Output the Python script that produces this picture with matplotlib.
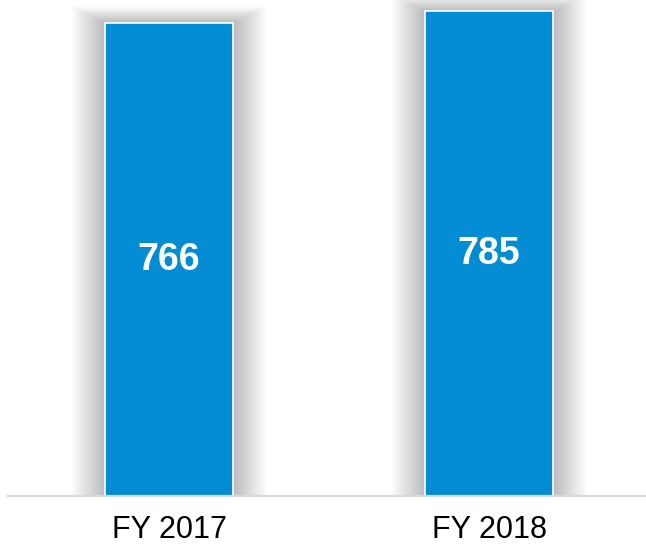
import matplotlib
matplotlib.use('Agg')
from matplotlib import pyplot as plt
from matplotlib.patches import Rectangle

# Podaci
categories = ['FY 2017', 'FY 2018']
values = [766, 785]

bar_color = '#028cd4'
bar_width = 0.4

fig = plt.figure(figsize=(6.46, 5.46), dpi=100)
ax = fig.add_axes([8 / 646, 50 / 546, 638 / 646, 496 / 546])

# Skala: 320 px po jedinici x, y=0 na 496 px od vrha
px_x = 1 / 320
ax.set_xlim(-(169 - 8) / 320, -(169 - 8) / 320 + 638 / 320)
ax.set_ylim(0, 766 * 496 / 473)
px_y = (766 * 496 / 473) / 496

# Senka oko stubova, slojevi sa malom providnoscu
n_layers = 34
for i, v in enumerate(values):
    for k in range(1, n_layers + 1):
        ax.add_patch(Rectangle((i - bar_width / 2 - k * px_x, 0),
                               bar_width + 2 * k * px_x,
                               v + k * px_y * 0.5,
                               facecolor='black', edgecolor='none',
                               linewidth=0, antialiased=False,
                               alpha=0.0085, zorder=1))

bars = ax.bar(range(len(values)), values, width=bar_width, color=bar_color,
              edgecolor='white', linewidth=1.2, zorder=3)

for i, v in enumerate(values):
    ax.text(i, v / 2, str(v), ha='center', va='center', color='white',
            fontsize=27, fontweight='bold', family='Liberation Sans', zorder=4)

for s in ['top', 'left', 'right']:
    ax.spines[s].set_visible(False)
ax.spines['bottom'].set_color('#d9d9d9')
ax.spines['bottom'].set_linewidth(1.6)
ax.spines['bottom'].set_zorder(5)

ax.set_yticks([])
ax.set_xticks(range(len(categories)))
ax.set_xticklabels(categories, fontsize=22, family='Liberation Sans', color='black')
ax.tick_params(axis='x', length=0, pad=14)

fig.savefig('out.png', dpi=100)
